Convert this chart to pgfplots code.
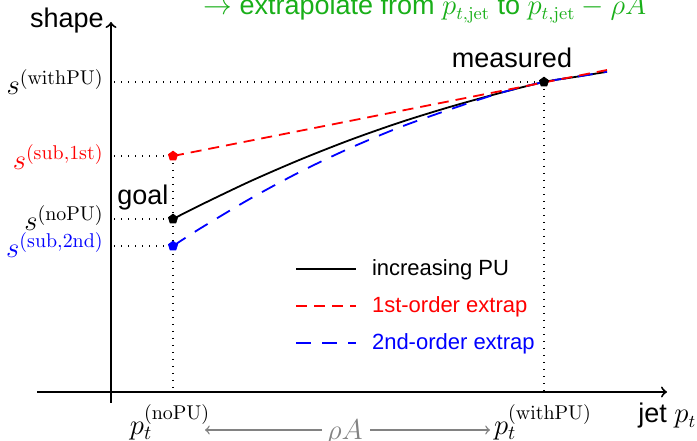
\documentclass[border=0pt]{standalone}
\usepackage[no-math]{fontspec}
\setmainfont{Liberation Sans}
\usepackage{pgfplots}
\pgfplotsset{compat=1.18}
\definecolor{tgreen}{RGB}{25,175,25}
\definecolor{tred}{RGB}{255,0,0}
\definecolor{tblue}{RGB}{0,0,255}
\definecolor{tgray}{RGB}{130,130,130}
\newcommand{\lab}{\fontsize{13.5bp}{16bp}\selectfont}
\newcommand{\mlab}{\fontsize{14bp}{16bp}\selectfont}
\tikzset{dots/.style={line width=0.7bp, dash pattern=on 0.7bp off 2.8bp}}
\begin{document}
\begin{tikzpicture}
\begin{axis}[name=ax, x=0.5bp, y=0.5bp, xmin=0, xmax=697, ymin=0, ymax=441,
  hide axis, clip=false,
  legend style={draw=none, fill=none, at={(axis description cs:0.423,0.42)}, anchor=north west,
    font=\fontsize{11bp}{13bp}\selectfont, row sep=6.2bp, inner sep=0pt,
    nodes={inner sep=1.5bp},
    /tikz/every odd column/.append style={column sep=6bp}},
  legend cell align=left,
  legend image code/.code={\draw[#1] (0bp,0bp) -- (30bp,0bp);},
]
% legend
\addlegendimage{black, line width=0.9bp}
\addlegendentry{increasing PU}
\addlegendimage{tred, line width=0.9bp, dash pattern=on 5.5bp off 3.5bp}
\addlegendentry{\textcolor{tred}{1st-order extrap}}
\addlegendimage{tblue, line width=0.9bp, dash pattern=on 7.5bp off 5.5bp}
\addlegendentry{\textcolor{tblue}{2nd-order extrap}}

% axes
\addplot[forget plot, black, line width=1bp, ->] coordinates {(37,49) (667,49)};
\addplot[forget plot, black, line width=1bp, ->] coordinates {(111,38) (111,419)};

% dotted guides
\addplot[forget plot, dots] coordinates {(114,359) (544,359)};
\addplot[forget plot, dots] coordinates {(114,285) (173,285)};
\addplot[forget plot, dots] coordinates {(114,222) (173,222)};
\addplot[forget plot, dots] coordinates {(114,195) (173,195)};
\addplot[forget plot, dots] coordinates {(173,285) (173,49)};
\addplot[forget plot, dots] coordinates {(544,359) (544,49)};

% curves
\addplot[forget plot, black, line width=0.9bp, smooth] coordinates {
(173,222) (200,235.7) (250,259.6) (300,281.3) (350,301) (400,318.6) (450,334.1) (500,348) (544,359) (575,364) (607,369.2)};
\addplot[forget plot, tblue, line width=0.9bp, smooth, dash pattern=on 7.5bp off 5.5bp] coordinates {
(173,195) (200,212.4) (250,242.2) (300,269.1) (350,292.9) (400,313.8) (450,331.6) (500,348) (544,359) (575,364) (607,369.2)};
\addplot[forget plot, tred, line width=0.9bp, dash pattern=on 5.5bp off 3.5bp] coordinates {(173,285) (607,371)};

% markers
\addplot[forget plot, only marks, mark=pentagon*, mark size=2.4bp, black] coordinates {(173,222) (544,359)};
\addplot[forget plot, only marks, mark=pentagon*, mark size=2.4bp, tred] coordinates {(173,285)};
\addplot[forget plot, only marks, mark=pentagon*, mark size=2.4bp, tblue] coordinates {(173,195)};

% texts
\node[anchor=base east, inner sep=0pt, font=\lab] at (axis cs:104,413) {shape};
\node[anchor=base, inner sep=0pt, font=\lab] at (axis cs:512,373) {measured};
\node[anchor=base west, inner sep=0pt, font=\lab] at (axis cs:117,236) {goal};
\node[anchor=base west, inner sep=0pt, font=\lab] at (axis cs:638,18) {jet $p_t$};
\node[anchor=base west, inner sep=0pt, font=\lab, text=tgreen] at (axis cs:203,426)
  {$\rightarrow$ extrapolate from $p_{t,\mathrm{jet}}$ to $p_{t,\mathrm{jet}}-\rho A$};

\node[anchor=east, inner sep=0pt, font=\mlab] at (axis cs:104,359) {$s^{(\mathrm{withPU})}$};
\node[anchor=east, inner sep=0pt, font=\mlab, text=tred] at (axis cs:104,284) {$s^{(\mathrm{sub,1st})}$};
\node[anchor=east, inner sep=0pt, font=\mlab] at (axis cs:104,223) {$s^{(\mathrm{noPU})}$};
\node[anchor=east, inner sep=0pt, font=\mlab, text=tblue] at (axis cs:104,196) {$s^{(\mathrm{sub,2nd})}$};

\node[anchor=north, inner sep=0pt, font=\mlab] at (axis cs:170,37) {$p_t^{(\mathrm{noPU})}$};
\node[anchor=north, inner sep=0pt, font=\mlab] at (axis cs:543,37) {$p_t^{(\mathrm{withPU})}$};
\node[anchor=base, inner sep=0pt, font=\mlab, text=tgray] at (axis cs:345,1) {$\rho A$};
\draw[tgray, line width=0.7bp, ->] (axis cs:322,11) -- (axis cs:205,11);
\draw[tgray, line width=0.7bp, ->] (axis cs:370,11) -- (axis cs:490,11);
\end{axis}
\pgfresetboundingbox
\path[use as bounding box] (ax.south west) rectangle (ax.north east);
\end{tikzpicture}
\end{document}
